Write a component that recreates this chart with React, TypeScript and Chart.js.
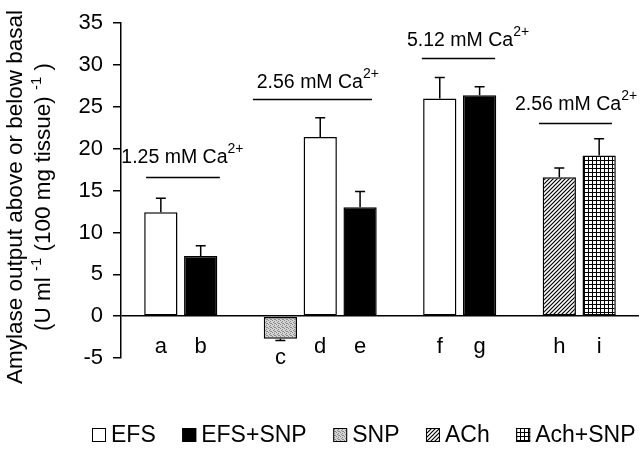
import React, { useEffect, useRef } from 'react';
import { Chart, registerables } from 'chart.js';

Chart.register(...registerables);

// ---- data ----
const categories = ['', 'a', 'b', '', 'c', 'd', 'e', '', 'f', 'g', '', 'h', 'i', ''];
const barLetters = ['a', 'b', 'c', 'd', 'e', 'f', 'g', 'h', 'i'];
const barMeans = [12.4, 7.2, -2.7, 21.4, 13.0, 26.0, 26.4, 16.6, 19.2];
const barErrors = [1.7, 1.2, 0.2, 2.3, 1.9, 2.5, 1.0, 1.1, 2.0];
const barSeries = ['EFS', 'EFS+SNP', 'SNP', 'EFS', 'EFS+SNP', 'EFS', 'EFS+SNP', 'ACh', 'Ach+SNP'];
const seriesNames = ['EFS', 'EFS+SNP', 'SNP', 'ACh', 'Ach+SNP'];
const yMin = -5;
const yMax = 35;
const yStep = 5;
const calciumLabels = ['1.25 mM Ca', '2.56 mM Ca', '5.12 mM Ca', '2.56 mM Ca'];
const calciumSup = '2+';
// annotation placement (category-index units / value units)
const calciumLineFrom = [0.63, 3.31, 7.55, 10.49];
const calciumLineTo = [2.48, 6.30, 9.39, 12.32];
const calciumLineY = [16.6, 26.0, 30.8, 23.1];
const calciumTextX = [1.54, 4.94, 8.71, 11.42];
const calciumTextY = [18.25, 27.2, 32.3, 24.6];

const FONT = '"Liberation Sans", Arial, Helvetica, sans-serif';

function makePatterns(): Record<string, CanvasPattern | string> {
  const mk = (size: number, draw: (c: CanvasRenderingContext2D) => void) => {
    const cv = document.createElement('canvas');
    cv.width = size;
    cv.height = size;
    const c = cv.getContext('2d')!;
    c.fillStyle = '#fff';
    c.fillRect(0, 0, size, size);
    draw(c);
    return c.createPattern(cv, 'repeat')!;
  };
  const snp = mk(4, (c) => {
    c.fillStyle = '#d4d4d4';
    c.fillRect(0, 0, 4, 4);
    c.fillStyle = '#8a8a8a';
    [[0, 0], [2, 1], [1, 2], [3, 3], [2, 3]].forEach(([x, y]) => c.fillRect(x, y, 1, 1));
  });
  const ach = mk(4, (c) => {
    c.strokeStyle = '#000';
    c.lineWidth = 1.2;
    c.beginPath();
    c.moveTo(-1, 5); c.lineTo(5, -1);
    c.moveTo(-1, 1); c.lineTo(1, -1);
    c.moveTo(3, 5); c.lineTo(5, 3);
    c.stroke();
  });
  const grid = mk(4, (c) => {
    c.fillStyle = '#000';
    c.fillRect(0, 0, 4, 1);
    c.fillRect(0, 0, 1, 4);
  });
  return { 'EFS': '#ffffff', 'EFS+SNP': '#000000', 'SNP': snp, 'ACh': ach, 'Ach+SNP': grid };
}

function drawRich(ctx: CanvasRenderingContext2D, parts: { t: string; sup?: boolean }[], x: number, y: number, size: number, supSize: number, supRise: number) {
  let cx = x;
  for (const p of parts) {
    ctx.font = `${p.sup ? supSize : size}px ${FONT}`;
    ctx.fillText(p.t, cx, p.sup ? y - supRise : y);
    cx += ctx.measureText(p.t).width;
  }
  return cx - x;
}

function richWidth(ctx: CanvasRenderingContext2D, parts: { t: string; sup?: boolean }[], size: number, supSize: number) {
  let w = 0;
  for (const p of parts) {
    ctx.font = `${p.sup ? supSize : size}px ${FONT}`;
    w += ctx.measureText(p.t).width;
  }
  return w;
}

export default function App() {
  const ref = useRef<HTMLCanvasElement>(null);

  useEffect(() => {
    const fills = makePatterns();

    const datasets = seriesNames.map((name) => ({
      label: name,
      data: categories.map((cat) => {
        const i = barLetters.indexOf(cat);
        return i >= 0 && barSeries[i] === name ? barMeans[i] : null;
      }),
      backgroundColor: fills[name] as any,
      borderColor: '#000',
      borderWidth: 1.5,
      borderSkipped: false as any,
      grouped: false,
      categoryPercentage: 1,
      barPercentage: 0.835,
    }));

    const custom = {
      id: 'custom',
      afterDatasetsDraw(chart: any) {
        const ctx: CanvasRenderingContext2D = chart.ctx;
        const xs = chart.scales.x;
        const ys = chart.scales.y;
        ctx.save();
        ctx.fillStyle = '#000';
        ctx.strokeStyle = '#000';
        const zero = ys.getPixelForValue(0);
        barLetters.forEach((l, i) => {
          const ci = categories.indexOf(l);
          const px = xs.getPixelForValue(ci);
          const v = barMeans[i];
          const e = barErrors[i];
          const y0 = ys.getPixelForValue(v);
          const y1 = ys.getPixelForValue(v >= 0 ? v + e : v - e);
          ctx.lineWidth = 1.5;
          ctx.beginPath();
          ctx.moveTo(px, y0);
          ctx.lineTo(px, y1);
          ctx.moveTo(px - 5, y1);
          ctx.lineTo(px + 5, y1);
          ctx.stroke();
          ctx.font = `22px ${FONT}`;
          ctx.textAlign = 'center';
          ctx.textBaseline = 'alphabetic';
          const ly = Math.max(zero + 37, ys.getPixelForValue(Math.min(v, 0)) + 25);
          ctx.fillText(l, px, ly);
        });
        ctx.textAlign = 'left';
        calciumLabels.forEach((lab, i) => {
          const parts = [{ t: lab }, { t: calciumSup, sup: true }];
          const w = richWidth(ctx, parts, 19.5, 14);
          const cx = xs.getPixelForValue(calciumTextX[i]);
          drawRich(ctx, parts, cx - w / 2, ys.getPixelForValue(calciumTextY[i]), 19.5, 14, 10);
          const ly = Math.round(ys.getPixelForValue(calciumLineY[i])) + 0.5;
          ctx.lineWidth = 1.3;
          ctx.beginPath();
          ctx.moveTo(xs.getPixelForValue(calciumLineFrom[i]), ly);
          ctx.lineTo(xs.getPixelForValue(calciumLineTo[i]), ly);
          ctx.stroke();
        });
        ctx.restore();
      },
      afterDraw(chart: any) {
        const ctx: CanvasRenderingContext2D = chart.ctx;
        ctx.save();
        ctx.fillStyle = '#000';
        ctx.textBaseline = 'alphabetic';
        ctx.textAlign = 'left';
        // y axis title (rotated, two centred lines)
        const line1 = [{ t: 'Amylase output above or below basal' }];
        const line2 = [
          { t: '(U ml ' },
          { t: '-1', sup: true },
          { t: ' (100 mg tissue) ' },
          { t: '-1', sup: true },
          { t: ' )' },
        ];
        const titleCenter = 197;
        [[line1, 21.5], [line2, 50]].forEach(([parts, bx]: any) => {
          const w = richWidth(ctx, parts, 22.5, 15);
          ctx.save();
          ctx.translate(bx, titleCenter);
          ctx.rotate(-Math.PI / 2);
          drawRich(ctx, parts, -w / 2, 0, 22.5, 15, 9);
          ctx.restore();
        });

        // legend
        let lx = 92;
        const boxY = 428;
        const box = 14;
        seriesNames.forEach((name) => {
          ctx.fillStyle = fills[name] as any;
          ctx.fillRect(lx, boxY, box, box);
          ctx.strokeStyle = '#000';
          ctx.lineWidth = 1;
          ctx.strokeRect(lx + 0.5, boxY + 0.5, box - 1, box - 1);
          ctx.fillStyle = '#000';
          ctx.font = `23px ${FONT}`;
          ctx.fillText(name, lx + box + 5, boxY + box);
          lx += box + 5 + ctx.measureText(name).width + 26.5;
        });
        ctx.restore();
      },
    };

    const chart = new Chart(ref.current!, {
      type: 'bar',
      data: { labels: categories, datasets: datasets as any },
      options: {
        animation: false,
        responsive: false,
        devicePixelRatio: 1,
        layout: { padding: { top: 12, right: 1, bottom: 91, left: 0 } },
        plugins: { legend: { display: false }, tooltip: { enabled: false } },
        scales: {
          x: {
            type: 'category',
            display: false,
            offset: false,
            grid: { display: false },
          },
          y: {
            min: yMin,
            max: yMax,
            afterFit: (s: any) => { s.width = 121; },
            border: { display: true, color: '#000', width: 1.5 },
            grid: {
              drawOnChartArea: true,
              color: (c: any) => (c.tick && c.tick.value === 0 ? '#000' : 'rgba(0,0,0,0)'),
              lineWidth: 1.5,
              tickColor: '#000',
              tickLength: 8,
            },
            ticks: {
              stepSize: yStep,
              padding: 10,
              color: '#000',
              font: { family: FONT, size: 22 },
            },
          },
        },
      },
      plugins: [custom],
    });
    return () => chart.destroy();
  }, []);

  return (
    <div style={{ position: 'fixed', left: 0, top: 0, width: 640, height: 449, background: '#fff' }}>
      <canvas ref={ref} width={640} height={449} style={{ display: 'block', width: 640, height: 449 }} />
    </div>
  );
}
